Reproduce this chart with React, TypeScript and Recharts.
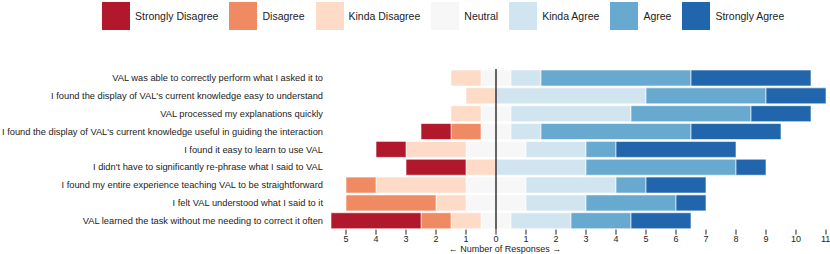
import React from "react";
import { BarChart, Bar, XAxis, YAxis, ReferenceLine } from "recharts";

const questions = [
  "VAL was able to correctly perform what I asked it to",
  "I found the display of VAL's current knowledge easy to understand",
  "VAL processed my explanations quickly",
  "I found the display of VAL's current knowledge useful in guiding the interaction",
  "I found it easy to learn to use VAL",
  "I didn't have to significantly re-phrase what I said to VAL",
  "I found my entire experience teaching VAL to be straightforward",
  "I felt VAL understood what I said to it",
  "VAL learned the task without me needing to correct it often",
];

const stronglyDisagree = [0, 0, 0, 1, 1, 2, 0, 0, 3];
const disagree = [0, 0, 0, 1, 0, 0, 1, 3, 1];
const kindaDisagree = [1, 1, 1, 0, 2, 1, 3, 1, 1];
const neutral = [1, 0, 1, 1, 2, 0, 2, 2, 1];
const kindaAgree = [1, 5, 4, 1, 2, 3, 3, 2, 2];
const agree = [5, 4, 4, 5, 1, 5, 1, 3, 2];
const stronglyAgree = [4, 2, 2, 3, 4, 1, 2, 1, 2];

const categories = [
  "Strongly Disagree",
  "Disagree",
  "Kinda Disagree",
  "Neutral",
  "Kinda Agree",
  "Agree",
  "Strongly Agree",
];
const colors = ["#b2182b", "#ef8a62", "#fddbc7", "#f7f7f7", "#d1e5f0", "#67a9cf", "#2166ac"];

const xTicks = [-5, -4, -3, -2, -1, 0, 1, 2, 3, 4, 5, 6, 7, 8, 9, 10, 11];
const axisTitle = "\u2190 Number of Responses \u2192";

const data = questions.map((q, i) => ({
  q,
  nL: -neutral[i] / 2,
  kd: -kindaDisagree[i],
  d: -disagree[i],
  sd: -stronglyDisagree[i],
  nR: neutral[i] / 2,
  ka: kindaAgree[i],
  a: agree[i],
  sa: stronglyAgree[i],
}));

const series = [
  { key: "nL", color: colors[3] },
  { key: "kd", color: colors[2] },
  { key: "d", color: colors[1] },
  { key: "sd", color: colors[0] },
  { key: "nR", color: colors[3] },
  { key: "ka", color: colors[4] },
  { key: "a", color: colors[5] },
  { key: "sa", color: colors[6] },
];

const FONT = "'Liberation Sans', Arial, Helvetica, sans-serif";

const YTick = (props: any) => {
  const { x, y, payload } = props;
  return (
    <text x={x} y={y} dy="0.35em" textAnchor="end" fontSize={9.3} fill="#222" fontFamily={FONT}>
      {payload.value}
    </text>
  );
};

export default function App() {
  return (
    <div style={{ position: "absolute", left: 0, top: 0, width: 830, height: 254, fontFamily: FONT, background: "#fff" }}>
      <div style={{ position: "absolute", left: 102, top: 2, display: "flex", alignItems: "center", height: 28 }}>
        {categories.map((c, i) => (
          <div key={c} style={{ display: "flex", alignItems: "center", marginRight: 11 }}>
            <div style={{ width: 28, height: 28, background: colors[i], marginRight: 5 }} />
            <span style={{ fontSize: 10.5, color: "#222", whiteSpace: "nowrap" }}>{c}</span>
          </div>
        ))}
      </div>
      <BarChart
        width={830}
        height={254}
        data={data}
        layout="vertical"
        stackOffset="sign"
        barCategoryGap={1}
        margin={{ top: 69, right: 4, bottom: 0, left: 0 }}
      >
        <XAxis
          type="number"
          domain={[-5.5, 11]}
          ticks={xTicks}
          tickFormatter={(v: number) => String(Math.abs(v))}
          axisLine={false}
          tickSize={5}
          tickMargin={1}
          height={24.4}
          tick={{ fontSize: 9, fill: "#222", fontFamily: FONT }}
          tickLine={{ stroke: "#222" }}
          allowDataOverflow
        />
        <YAxis
          type="category"
          dataKey="q"
          width={331}
          axisLine={false}
          tickLine={false}
          tickSize={0}
          tickMargin={8}
          interval={0}
          tick={<YTick />}
        />
        {series.map((s) => (
          <Bar
            key={s.key}
            dataKey={s.key}
            stackId="s"
            fill={s.color}
            stroke="#ffffff"
            strokeOpacity={0.6}
            strokeWidth={1}
            isAnimationActive={false}
          />
        ))}
        <ReferenceLine x={0} stroke="#000" strokeWidth={1.2} />
      </BarChart>
      <div
        style={{
          position: "absolute",
          left: 505,
          top: 249,
          transform: "translate(-50%, -50%)",
          fontSize: 9,
          color: "#222",
          whiteSpace: "nowrap",
        }}
      >
        {axisTitle}
      </div>
    </div>
  );
}
